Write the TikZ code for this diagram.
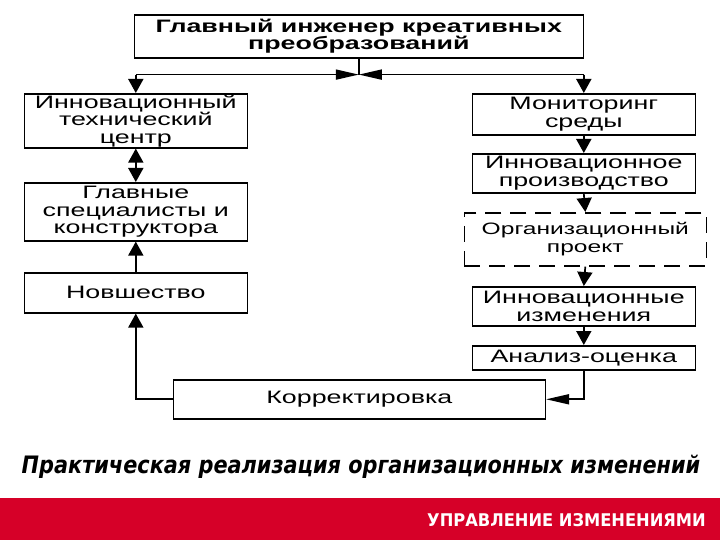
\documentclass[tikz,border=0pt]{standalone}
\usepackage{fontspec}
\setmainfont{Liberation Sans}
\newfontfamily\widefont[FakeStretch=1.49]{Liberation Sans}
\newfontfamily\capfont[FakeStretch=0.93]{DejaVu Sans}
\newfontfamily\titlefont[FakeStretch=0.868]{DejaVu Sans}
\usetikzlibrary{arrows.meta,calc}
\definecolor{bandred}{RGB}{214,0,40}
\tikzset{
  box/.style={draw=black,line width=1.6pt,fill=white,inner sep=0pt,align=center,
    font=\widefont\fontsize{18}{17.5}\selectfont,anchor=north west},
  dashbox/.style={box,dash pattern=on 16pt off 9pt,font=\widefont\fontsize{16.5}{17.5}\selectfont},
  conn/.style={draw=black,line width=1.7pt},
  arr/.style={conn,-{Triangle[length=14pt,width=15pt]}},
  arrs/.style={conn,{Triangle[length=14pt,width=15pt]}-{Triangle[length=14pt,width=15pt]}},
  longarr/.style={conn,-{Triangle[length=23pt,width=10pt]}},
}
\begin{document}
\begin{tikzpicture}[x=1pt,y=-1pt]
\useasboundingbox (0,0) rectangle (720,540);
\fill[white] (0,0) rectangle (720,540);
\fill[bandred] (0,498) rectangle (720,540);
\node[box,font=\widefont\bfseries\fontsize{18}{17.5}\selectfont,minimum width=449pt,minimum height=43pt] (top) at (133.5,14) {Главный инженер креативных\\преобразований};
\node[box,minimum width=223pt,minimum height=54pt] (l1) at (23.5,93) {Инновационный\\технический\\центр};
\node[box,minimum width=223pt,minimum height=58pt] (l2) at (23.5,182) {Главные\\специалисты и\\конструктора};
\node[box,minimum width=223pt,minimum height=40pt] (l3) at (23.5,272) {Новшество};
\node[box,minimum width=372pt,minimum height=39pt] (k) at (172.5,379) {Корректировка};
\node[box,minimum width=223pt,minimum height=41pt] (r1) at (471.5,93) {Мониторинг\\среды};
\node[box,minimum width=223pt,minimum height=39pt] (r2) at (471.5,153) {Инновационное\\производство};
\node[dashbox,minimum width=242pt,minimum height=53pt] (r3) at (463.5,212) {Организационный\\проект};
\node[box,minimum width=223pt,minimum height=39pt] (r4) at (471.5,286) {Инновационные\\изменения};
\node[box,minimum width=223pt,minimum height=24pt] (r5) at (471.5,345) {Анализ-оценка};
\coordinate (jn) at ($(top.south)+(0,16)$);
\coordinate (bl) at (l1.north |- jn);
\coordinate (br) at (r1.north |- jn);
\draw[conn] (top.south) -- (jn);
\draw[longarr] (bl) -- (jn);
\draw[longarr] (br) -- (jn);
\draw[arr] (bl) -- (l1.north);
\draw[arr] (br) -- (r1.north);
\draw[arrs] (l1.south) -- (l2.north);
\draw[arr] (l3.north) -- (l2.south);
\draw[arr] (k.west) -| (l3.south);
\draw[arr] (r1.south) -- (r2.north);
\draw[arr] (r2.south) -- (r3.north);
\draw[arr] (r3.south) -- (r4.north);
\draw[arr] (r4.south) -- (r5.north);
\draw[longarr] (r5.south) |- (k.east);
\node[font=\titlefont\fontsize{24}{28}\selectfont\bfseries\itshape,inner sep=0pt] (title) at (361,467) {Практическая реализация организационных изменений};
\node[font=\capfont\bfseries\fontsize{17.5}{18}\selectfont,text=white,inner sep=0pt,anchor=east] (cap) at (706,520) {УПРАВЛЕНИЕ ИЗМЕНЕНИЯМИ};
\end{tikzpicture}
\end{document}
